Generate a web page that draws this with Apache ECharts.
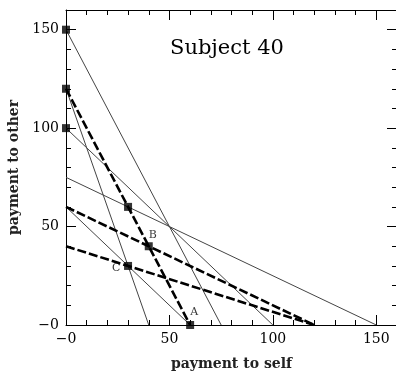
<!DOCTYPE html>
<html>
<head>
<meta charset="utf-8">
<script src="https://cdn.jsdelivr.net/npm/echarts@6/dist/echarts.min.js"></script>
<style>html,body{margin:0;padding:0;background:#fff}#c{width:396px;height:373px}</style>
</head>
<body>
<div id="c"></div>
<script>
// Budget lines: intercepts on the "self" axis and the "other" axis
var budgetSelfMax  = [40, 75, 150, 60, 100, 120, 120, 60];
var budgetOtherMax = [120, 150, 75, 60, 100, 40, 60, 120];
var budgetDashed   = [false, false, false, false, false, true, true, true];
// Chosen allocations (squares)
var choiceSelf  = [0, 0, 0, 30, 40, 30, 60];
var choiceOther = [150, 120, 100, 60, 40, 30, 0];
var choiceLabel = ['', '', '', '', 'B', 'C', 'A'];
// Axis ticks
var xTickLabels = {0: '\u22120', 50: '50', 100: '100', 150: '150'};
var yTickLabels = {0: '\u22120', 50: '50', 100: '100', 150: '150'};
var titleText = 'Subject 40';
var xName = 'payment to self';
var yName = 'payment to other';

var serif = 'DejaVu Serif';
var labelOffsets = {'A': [4, -14], 'B': [4, -13], 'C': [-12, 1]};

var series = [];
var order = [];
for (var i = 0; i < budgetSelfMax.length; i++) if (!budgetDashed[i]) order.push(i);
for (var i = 0; i < budgetSelfMax.length; i++) if (budgetDashed[i]) order.push(i);
order.forEach(function (i) {
  series.push({
    type: 'line', xAxisIndex: 0, yAxisIndex: 0, symbol: 'none', silent: true,
    data: [[0, budgetOtherMax[i]], [budgetSelfMax[i], 0]],
    lineStyle: budgetDashed[i]
      ? {color: '#000', width: 2.6, type: [9, 3]}
      : {color: '#444', width: 1},
    z: budgetDashed[i] ? 3 : 2
  });
});
series.push({
  type: 'scatter', xAxisIndex: 0, yAxisIndex: 0, symbol: 'rect', symbolSize: 8,
  clip: false, itemStyle: {color: '#000'}, z: 5,
  data: choiceSelf.map(function (s, i) {
    var d = {value: [s, choiceOther[i]]};
    if (choiceLabel[i]) {
      d.label = {show: true, formatter: choiceLabel[i], position: labelOffsets[choiceLabel[i]],
        fontFamily: serif, fontSize: 11, color: '#000'};
    }
    return d;
  })
});

function mkAxis(pos, interval, len, withLabels, map, extra) {
  var a = {
    type: 'value', min: 0, max: 160, interval: interval, position: pos,
    splitLine: {show: false},
    axisLine: {show: interval === 50, onZero: false, lineStyle: {color: '#000', width: 1}},
    axisTick: {show: true, inside: true, length: len, lineStyle: {color: '#000', width: 1}},
    axisLabel: {show: withLabels, color: '#000', fontFamily: serif, fontSize: 14, margin: 7,
      formatter: function (v) { return map[v] !== undefined ? map[v] : ''; }}
  };
  for (var k in extra) a[k] = extra[k];
  return a;
}

var nameStyle = {fontFamily: serif, fontSize: 14, fontWeight: 'bold', color: '#222'};
var chart = echarts.init(document.getElementById('c'), null, {renderer: 'canvas'});
chart.setOption({
  animation: false,
  backgroundColor: '#fff',
  title: {text: titleText, left: 165, top: 33,
    textStyle: {fontFamily: serif, fontWeight: 'normal', fontSize: 21, color: '#000'}},
  grid: {left: 66, top: 10, width: 331, height: 315, containLabel: false, outerBoundsMode: 'none'},
  xAxis: [
    mkAxis('bottom', 50, 10, true, xTickLabels, {name: xName, nameLocation: 'middle', nameGap: 32,
      nameTextStyle: nameStyle}),
    mkAxis('bottom', 10, 5, false, xTickLabels, {}),
    mkAxis('top', 50, 10, false, xTickLabels, {}),
    mkAxis('top', 10, 5, false, xTickLabels, {})
  ],
  yAxis: [
    mkAxis('left', 50, 10, true, yTickLabels, {name: yName, nameLocation: 'middle', nameGap: 37,
      nameTextStyle: nameStyle}),
    mkAxis('left', 10, 5, false, yTickLabels, {}),
    mkAxis('right', 50, 10, false, yTickLabels, {}),
    mkAxis('right', 10, 5, false, yTickLabels, {})
  ],
  series: series
});
</script>
</body>
</html>
